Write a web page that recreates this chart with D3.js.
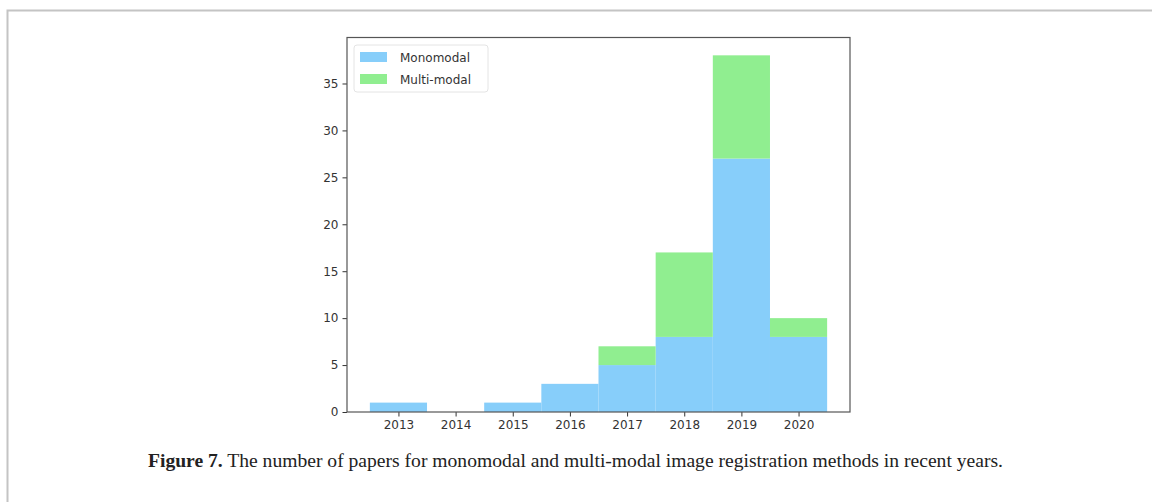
<!DOCTYPE html>
<html>
<head>
<meta charset="utf-8">
<script src="https://cdn.jsdelivr.net/npm/d3@7"></script>
<style>
  html, body { margin: 0; padding: 0; background: #fff; }
  svg { display: block; }
</style>
</head>
<body>
<div id="chart"></div>
<script>
// values
const years = [2013, 2014, 2015, 2016, 2017, 2018, 2019, 2020];
const monomodal = [1, 0, 1, 3, 5, 8, 27, 8];
const multimodal = [0, 0, 0, 0, 2, 9, 11, 2];
const yTicks = [0, 5, 10, 15, 20, 25, 30, 35];
const seriesNames = ['Monomodal', 'Multi-modal'];
const seriesColors = ['#87cefa', '#90ee90'];

const W = 1152, H = 502;
const plot = { left: 347, right: 850, top: 37.5, bottom: 412 };

const svg = d3.select('#chart').append('svg')
  .attr('width', W)
  .attr('height', H);

// page frame
svg.append('path')
  .attr('d', `M7.5,${H} V10.5 H${W}`)
  .attr('fill', 'none')
  .attr('stroke', '#c4c4c4')
  .attr('stroke-width', 2);

// matplotlib style margins: 5% on each side
const x = d3.scaleLinear()
  .domain([2012.1, 2020.9])
  .range([plot.left, plot.right]);

const y = d3.scaleLinear()
  .domain([0, 38 * 1.05])
  .range([plot.bottom, plot.top]);

const rows = years.map((yr, i) => ({ year: yr, mono: monomodal[i], multi: multimodal[i] }));
const stacked = d3.stack().keys(['mono', 'multi'])(rows);

const bars = svg.append('g').attr('class', 'bars');
stacked.forEach((layer, k) => {
  bars.selectAll(null)
    .data(layer.filter(d => d[1] > d[0]))
    .enter()
    .append('rect')
    .attr('x', d => x(d.data.year - 0.5))
    .attr('width', d => x(d.data.year + 0.5) - x(d.data.year - 0.5))
    .attr('y', d => y(d[1]))
    .attr('height', d => y(d[0]) - y(d[1]))
    .attr('fill', seriesColors[k]);
});

const tickFont = 'DejaVu Sans, sans-serif';

// axes
const xAxis = svg.append('g')
  .attr('transform', `translate(0,${plot.bottom})`)
  .call(d3.axisBottom(x).tickValues(years).tickFormat(d3.format('d')).tickSize(4.5).tickPadding(4));

const yAxis = svg.append('g')
  .attr('transform', `translate(${plot.left},0)`)
  .call(d3.axisLeft(y).tickValues(yTicks).tickSize(4.5).tickPadding(4));

[xAxis, yAxis].forEach(g => {
  g.select('.domain').remove();
  g.selectAll('line').attr('stroke', '#333').attr('stroke-width', 1);
  g.selectAll('text')
    .attr('fill', '#333')
    .style('font-family', tickFont)
    .style('font-size', '12px');
});

// spines
svg.append('rect')
  .attr('x', plot.left)
  .attr('y', plot.top)
  .attr('width', plot.right - plot.left)
  .attr('height', plot.bottom - plot.top)
  .attr('fill', 'none')
  .attr('stroke', '#555')
  .attr('stroke-width', 1.2);

// legend
const legend = svg.append('g').attr('transform', 'translate(354,45)');
legend.append('rect')
  .attr('width', 134)
  .attr('height', 47)
  .attr('rx', 3)
  .attr('fill', '#fff')
  .attr('stroke', '#e4e4e4');

seriesNames.forEach((name, i) => {
  const row = legend.append('g').attr('transform', `translate(6,${7 + i * 22})`);
  row.append('rect')
    .attr('width', 27)
    .attr('height', 10)
    .attr('fill', seriesColors[i]);
  row.append('text')
    .attr('x', 40)
    .attr('y', 9.5)
    .attr('fill', '#333')
    .style('font-family', tickFont)
    .style('font-size', '12px')
    .text(name);
});

// caption
const caption = svg.append('text')
  .attr('x', 148)
  .attr('y', 467)
  .attr('textLength', 855)
  .attr('lengthAdjust', 'spacingAndGlyphs')
  .style('font-family', 'Liberation Serif, serif')
  .style('font-size', '19px')
  .attr('fill', '#222');
caption.append('tspan').style('font-weight', 'bold').text('Figure 7.');
caption.append('tspan').text(' The number of papers for monomodal and multi-modal image registration methods in recent years.');
</script>
</body>
</html>
